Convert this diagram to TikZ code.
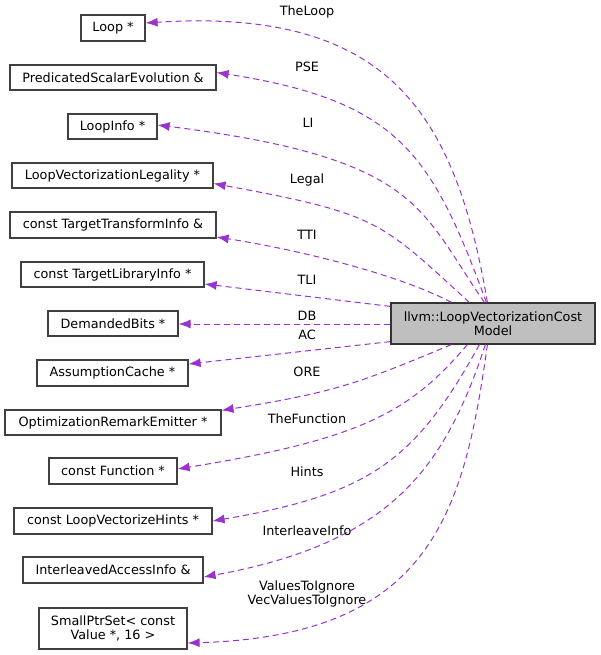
\documentclass[tikz,border=0pt]{standalone}
\usepackage{fontspec}
\setmainfont{DejaVu Sans}
\usetikzlibrary{arrows.meta,calc}
\definecolor{edgecol}{HTML}{9A32CD}
\definecolor{boxline}{HTML}{404040}
\definecolor{mainfill}{HTML}{BFBFBF}
\begin{document}
\begin{tikzpicture}[x=1pt,y=-1pt,
  every node/.style={font=\fontsize{12.8pt}{14.5pt}\selectfont, inner sep=0pt},
  cls/.style={draw=boxline, line width=1.2pt, fill=white, align=center},
  mainbox/.style={draw=black!80, line width=1.2pt, fill=mainfill, align=center},
  lbl/.style={align=center},
  edge/.style={draw=edgecol, line width=1pt, dash pattern=on 6pt off 4pt,
    -{Latex[length=12pt,width=9pt,fill=edgecol]}}]
\useasboundingbox (0,0) rectangle (600,655);
% class boxes
\node[cls, minimum width=64pt, minimum height=26pt] (loop) at (113,28) {Loop *};
\node[cls, minimum width=206pt, minimum height=25pt] (pse) at (113,77.5) {PredicatedScalarEvolution \&};
\node[cls, minimum width=89pt, minimum height=25pt] (li) at (112.5,126.5) {LoopInfo *};
\node[cls, minimum width=201pt, minimum height=25pt] (legal) at (112.5,175.5) {LoopVectorizationLegality *};
\node[cls, minimum width=206pt, minimum height=26pt] (tti) at (113,225) {const TargetTransformInfo \&};
\node[cls, minimum width=183pt, minimum height=25pt] (tli) at (112.5,274.5) {const TargetLibraryInfo *};
\node[cls, minimum width=130pt, minimum height=25pt] (db) at (113,323.5) {DemandedBits *};
\node[cls, minimum width=151pt, minimum height=26pt] (ac) at (112.5,373) {AssumptionCache *};
\node[cls, minimum width=216pt, minimum height=25pt] (ore) at (113,422.5) {OptimizationRemarkEmitter *};
\node[cls, minimum width=128pt, minimum height=26pt] (func) at (113,471) {const Function *};
\node[cls, minimum width=198pt, minimum height=26pt] (hints) at (113,521) {const LoopVectorizeHints *};
\node[cls, minimum width=180pt, minimum height=26pt] (ileave) at (113,570) {InterleavedAccessInfo \&};
\node[cls, minimum width=148pt, minimum height=41pt] (sps) at (113,628.5) {SmallPtrSet< const\\Value *, 16 >};
\node[mainbox, minimum width=204pt, minimum height=41pt] (main) at (493,323.5) {llvm::LoopVectorizationCost\\Model};
% edges
\draw[edge] ($(main.north west)+(97,0)$) .. controls (455,111) and (387,7.5) .. ($(loop.east)+(0,-5)$);
\draw[edge] ($(main.north west)+(96,0)$) .. controls (432,155) and (400,101) .. ($(pse.east)+(0,-5)$);
\draw[edge] ($(main.north west)+(94,0)$) .. controls (419,208) and (420,158) .. ($(li.east)+(0,-1.5)$);
\draw[edge] ($(main.north west)+(79,0)$) .. controls (380,221) and (379,214) .. ($(legal.east)+(0,8)$);
\draw[edge] ($(main.north west)+(61,0)$) .. controls (400,275) and (300,250) .. ($(tti.east)+(0,12)$);
\draw[edge] ($(main.north west)+(0,4)$) -- ($(tli.east)+(0,9.5)$);
\draw[edge] ($(main.west)+(0,0.5)$) -- ($(db.east)+(0,0.5)$);
\draw[edge] ($(main.south west)+(0,-3)$) -- ($(ac.east)+(0,-9)$);
\draw[edge] ($(main.south west)+(61,0)$) .. controls (359,383) and (337,392) .. ($(ore.north east)+(0,1)$);
\draw[edge] ($(main.south west)+(77,0)$) .. controls (410,412) and (362,439) .. ($(func.east)+(0,-2)$);
\draw[edge] ($(main.south west)+(89,0)$) .. controls (415,462) and (368,494.5) .. (hints.east);
\draw[edge] ($(main.south west)+(95,0)$) .. controls (445,467) and (392,543) .. ($(ileave.east)+(0,7)$);
\draw[edge] ($(main.south west)+(97,0)$) .. controls (464,513) and (431,636) .. ($(sps.east)+(0,14.5)$);
% labels
\node[lbl] (l1) at (307,12) {TheLoop};
\node[lbl] (l2) at (307,67) {PSE};
\node[lbl] (l3) at (308,123) {LI};
\node[lbl] (l4) at (307,180) {Legal};
\node[lbl] (l5) at (307,235) {TTI};
\node[lbl] (l6) at (307,280) {TLI};
\node[lbl] (l7) at (307,316) {DB};
\node[lbl] (l8) at (307,335) {AC};
\node[lbl] (l9) at (307,372) {ORE};
\node[lbl] (l10) at (307,419) {TheFunction};
\node[lbl] (l11) at (307,472) {Hints};
\node[lbl] (l12) at (307,531) {InterleaveInfo};
\node[lbl] (l13) at (307,594) {ValuesToIgnore\\VecValuesToIgnore};
\end{tikzpicture}
\end{document}
